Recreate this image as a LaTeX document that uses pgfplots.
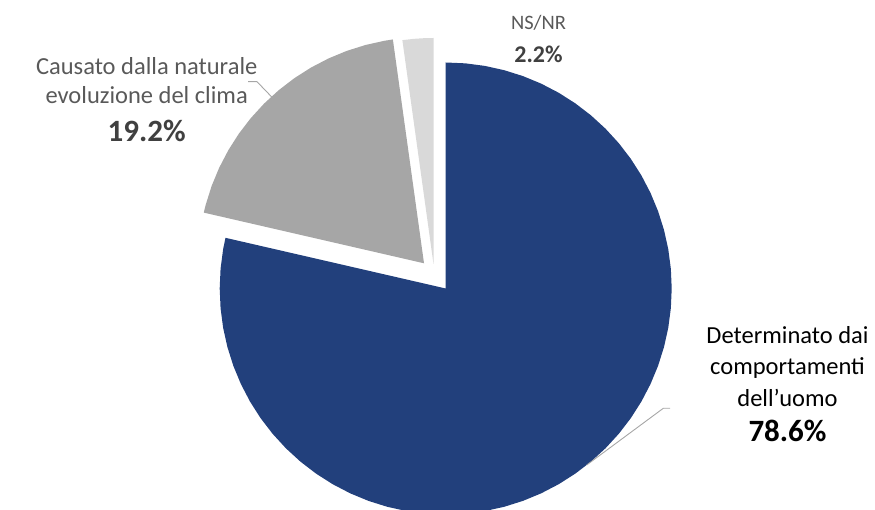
\documentclass[border=0pt]{standalone}
\usepackage{pgfplots}
\pgfplotsset{compat=1.18}
\usepgfplotslibrary{polar}
\usepackage{fontspec}
\setmainfont{Carlito}
\definecolor{cblue}{HTML}{22407C}
\definecolor{cgray}{HTML}{A6A6A6}
\definecolor{clight}{HTML}{D9D9D9}
\definecolor{ctxt}{HTML}{595959}
\definecolor{cdark}{HTML}{404040}
\definecolor{cline}{HTML}{A6A6A6}
\begin{document}
\begin{tikzpicture}
\begin{axis}[name=ax,
  width=875bp, height=510bp, scale only axis,
  xmin=-445.7, xmax=429.3, ymin=-221.5, ymax=288.5,
  hide axis, clip=true]
% Determinato dai comportamenti dell'uomo: 78.6% (90 -> -192.96)
\addplot[data cs=polar, fill=cblue, draw=none] coordinates {
(0,0) (90,226) (85,226) (80,226) (75,226) (70,226) (65,226) (60,226) (55,226) (50,226) (45,226)
(40,226) (35,226) (30,226) (25,226) (20,226) (15,226) (10,226) (5,226) (0,226)
(-5,226) (-10,226) (-15,226) (-20,226) (-25,226) (-30,226) (-35,226) (-40,226) (-45,226)
(-50,226) (-55,226) (-60,226) (-65,226) (-70,226) (-75,226) (-80,226) (-85,226) (-90,226)
(-95,226) (-100,226) (-105,226) (-110,226) (-115,226) (-120,226) (-125,226) (-130,226)
(-135,226) (-140,226) (-145,226) (-150,226) (-155,226) (-160,226) (-165,226) (-170,226)
(-175,226) (-180,226) (-185,226) (-190,226) (-192.96,226) (0,0)} -- cycle;
% Causato dalla naturale evoluzione del clima: 19.2% (167.04 -> 97.92), exploded
\addplot[data cs=polar, fill=cgray, draw=none, shift={(-21.7bp,25.2bp)}] coordinates {
(0,0) (167.04,226) (165,226) (160,226) (155,226) (150,226) (145,226) (140,226) (135,226)
(130,226) (125,226) (120,226) (115,226) (110,226) (105,226) (100,226) (97.92,226) (0,0)} -- cycle;
% NS/NR: 2.2% (97.92 -> 90), exploded
\addplot[data cs=polar, fill=clight, draw=none, shift={(-12.2bp,24.5bp)}] coordinates {
(0,0) (97.92,226) (95,226) (92.5,226) (90,226) (0,0)} -- cycle;
% leader lines
\addplot[cline, line width=0.9bp] coordinates {(-197.7,206.8) (-188.7,206.8) (-172.7,190.2)};
\addplot[cline, line width=0.9bp] coordinates {(224.3,-119.8) (217.6,-119.8) (141,-176.5)};
% labels
\node[anchor=base, text=ctxt, font=\fontsize{24.5bp}{28bp}\selectfont] at (axis cs:-299,213.5) {Causato dalla naturale};
\node[anchor=base, text=ctxt, font=\fontsize{24.5bp}{28bp}\selectfont] at (axis cs:-299,185.2) {evoluzione del clima};
\node[anchor=base, text=cdark, font=\fontsize{31bp}{34bp}\selectfont\bfseries] at (axis cs:-299,146.8) {19.2\%};
\node[anchor=base, text=black, font=\fontsize{24.5bp}{28bp}\selectfont] at (axis cs:341.8,-55.5) {Determinato dai};
\node[anchor=base, text=black, font=\fontsize{24.5bp}{28bp}\selectfont] at (axis cs:341.8,-86.5) {comportamenti};
\node[anchor=base, text=black, font=\fontsize{24.5bp}{28bp}\selectfont] at (axis cs:341.8,-118.2) {dell’uomo};
\node[anchor=base, text=black, font=\fontsize{31bp}{34bp}\selectfont\bfseries] at (axis cs:341.8,-153.2) {78.6\%};
\node[anchor=base, text=ctxt, font=\fontsize{20.5bp}{24bp}\selectfont] at (axis cs:92.8,258.5) {NS/NR};
\node[anchor=base, text=cdark, font=\fontsize{24bp}{28bp}\selectfont\bfseries] at (axis cs:92.8,225.5) {2.2\%};
\end{axis}
\pgfresetboundingbox
\useasboundingbox (ax.south west) rectangle (ax.north east);
\end{tikzpicture}
\end{document}
